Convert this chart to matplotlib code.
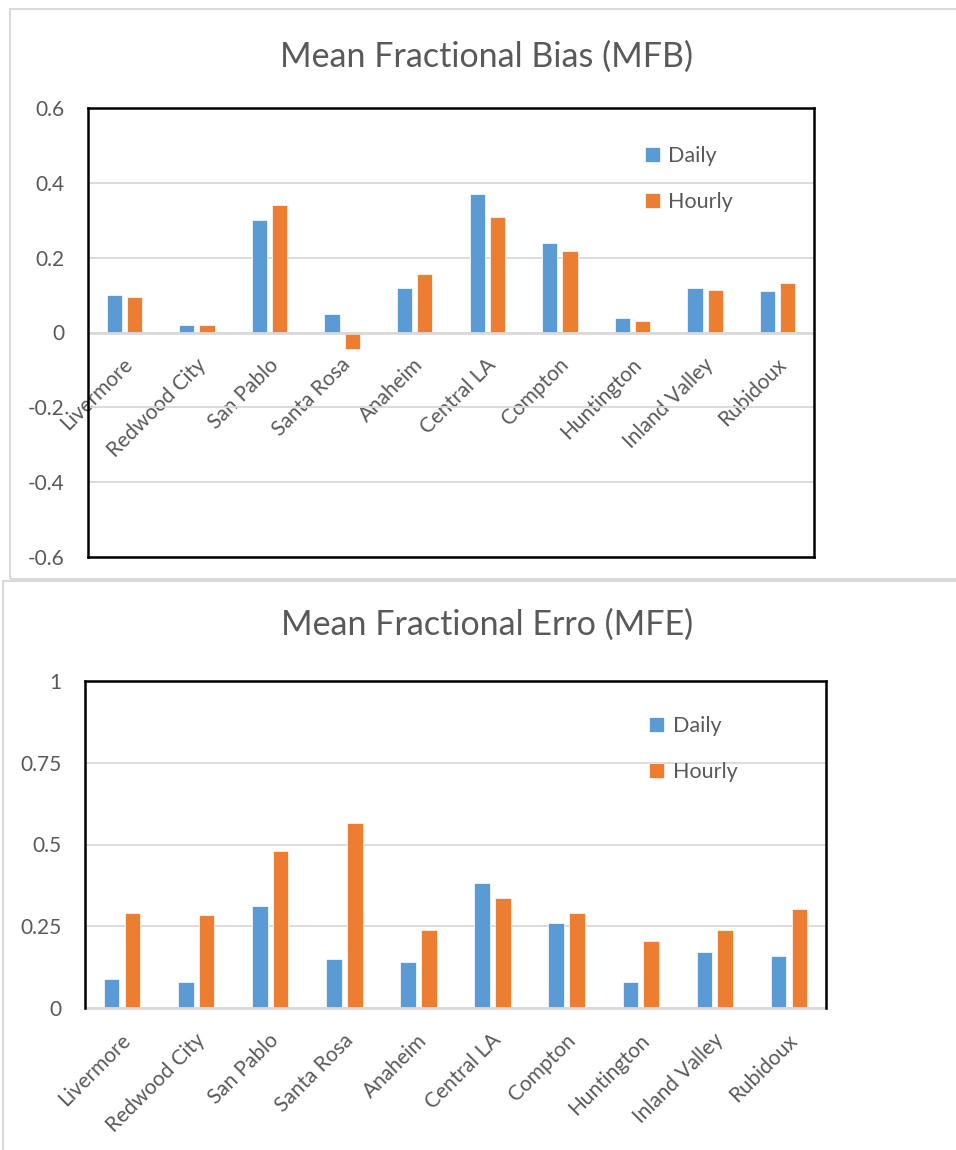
import numpy as np
import matplotlib
matplotlib.use("Agg")
import matplotlib.pyplot as plt
from matplotlib.patches import Rectangle
from matplotlib.transforms import ScaledTranslation
from matplotlib.ticker import FormatStrFormatter

plt.rcParams['font.family'] = ['Lato', 'DejaVu Sans']
plt.rcParams['axes.unicode_minus'] = False

sites = ['Livermore', 'Redwood City', 'San Pablo', 'Santa Rosa', 'Anaheim',
         'Central LA', 'Compton', 'Huntington', 'Inland Valley', 'Rubidoux']

# Mean fractional bias
mfb_daily = [0.10, 0.02, 0.30, 0.05, 0.12, 0.37, 0.24, 0.04, 0.12, 0.11]
mfb_hourly = [0.095, 0.02, 0.342, -0.045, 0.157, 0.308, 0.218, 0.03, 0.113, 0.133]

# Mean fractional error
mfe_daily = [0.089, 0.081, 0.312, 0.151, 0.14, 0.383, 0.261, 0.081, 0.171, 0.16]
mfe_hourly = [0.292, 0.285, 0.481, 0.566, 0.238, 0.336, 0.289, 0.206, 0.238, 0.304]

mfb_ticks = [-0.6, -0.4, -0.2, 0, 0.2, 0.4, 0.6]
mfe_ticks = [0, 0.25, 0.5, 0.75, 1]

blue = '#5B9BD5'
orange = '#ED7D31'
grey_txt = '#595959'
grid_c = '#D9D9D9'

W, H = 956, 1150
fig = plt.figure(figsize=(W / 100, H / 100), dpi=100)

# light panel frames (two pasted excel charts)
fig.add_artist(Rectangle((10 / W, 1 - 579 / H), 1.0, 570 / H, transform=fig.transFigure,
                         fill=False, edgecolor=grid_c, lw=1.5))
fig.add_artist(Rectangle((3 / W, -0.01), 1.0, 1 - 581 / H + 0.01, transform=fig.transFigure,
                         fill=False, edgecolor=grid_c, lw=1.5))

x = np.arange(len(sites))
bw = 0.21
off = 0.14
shift = ScaledTranslation(4 / 72, 0, fig.dpi_scale_trans)


def style_axes(ax, ticks, ylim, closed):
    ax.set_xlim(-0.5, len(sites) - 0.5)
    ax.set_ylim(*ylim)
    ax.set_yticks(ticks)
    ax.yaxis.set_major_formatter(FormatStrFormatter('%g'))
    ax.tick_params(axis='y', length=0, pad=17, labelsize=15, labelcolor=grey_txt)
    ax.yaxis.grid(True, color=grid_c, lw=1.3)
    ax.set_axisbelow(True)
    for side in ['left', 'top', 'right']:
        ax.spines[side].set_color('black')
        ax.spines[side].set_linewidth(1.8)
        ax.spines[side].set_zorder(4)
    # x axis sits on zero, grey
    ax.spines['bottom'].set_position(('data', 0))
    ax.spines['bottom'].set_color(grid_c)
    ax.spines['bottom'].set_linewidth(2)
    ax.spines['bottom'].set_zorder(3)
    if closed:
        ax.axhline(ylim[0], color='black', lw=1.8, clip_on=False, zorder=4)


def add_bars(ax, daily, hourly):
    ax.bar(x - off, daily, bw, color=blue, edgecolor='white', lw=0.5, label='Daily', zorder=2)
    ax.bar(x + off, hourly, bw, color=orange, edgecolor='white', lw=0.5, label='Hourly', zorder=2)


def add_legend(ax, anchor):
    ax.legend(loc='upper left', bbox_to_anchor=anchor, frameon=False, fontsize=15.5,
              labelcolor=grey_txt, handlelength=0.7, handleheight=0.7,
              handletextpad=0.4, labelspacing=1.2, borderaxespad=0)


def site_labels(ax):
    ax.set_xticks(x, sites)
    ax.tick_params(axis='x', length=0, pad=21, labelsize=15, labelcolor=grey_txt)
    for lbl in ax.get_xticklabels():
        lbl.set_rotation(45)
        lbl.set_horizontalalignment('right')
        lbl.set_verticalalignment('center')
        lbl.set_rotation_mode('anchor')
        lbl.set_transform(lbl.get_transform() + shift)


# ---- top: MFB ----
ax1 = fig.add_axes([88 / W, 1 - 557 / H, 726 / W, 449 / H])
add_bars(ax1, mfb_daily, mfb_hourly)
style_axes(ax1, mfb_ticks, (-0.6, 0.6), closed=True)
site_labels(ax1)
add_legend(ax1, (0.755, 0.935))
fig.text(487 / W, 1 - 57 / H, 'Mean Fractional Bias (MFB)', ha='center', va='center',
         fontsize=24.5, color=grey_txt)

# ---- bottom: MFE ----
ax2 = fig.add_axes([85 / W, 1 - 1008 / H, 741 / W, 327 / H])
add_bars(ax2, mfe_daily, mfe_hourly)
style_axes(ax2, mfe_ticks, (0, 1), closed=False)
site_labels(ax2)
add_legend(ax2, (0.75, 0.92))
fig.text(487 / W, 1 - 625 / H, 'Mean Fractional Erro (MFE)', ha='center', va='center',
         fontsize=24.5, color=grey_txt)

fig.savefig('out.png', dpi=100)
